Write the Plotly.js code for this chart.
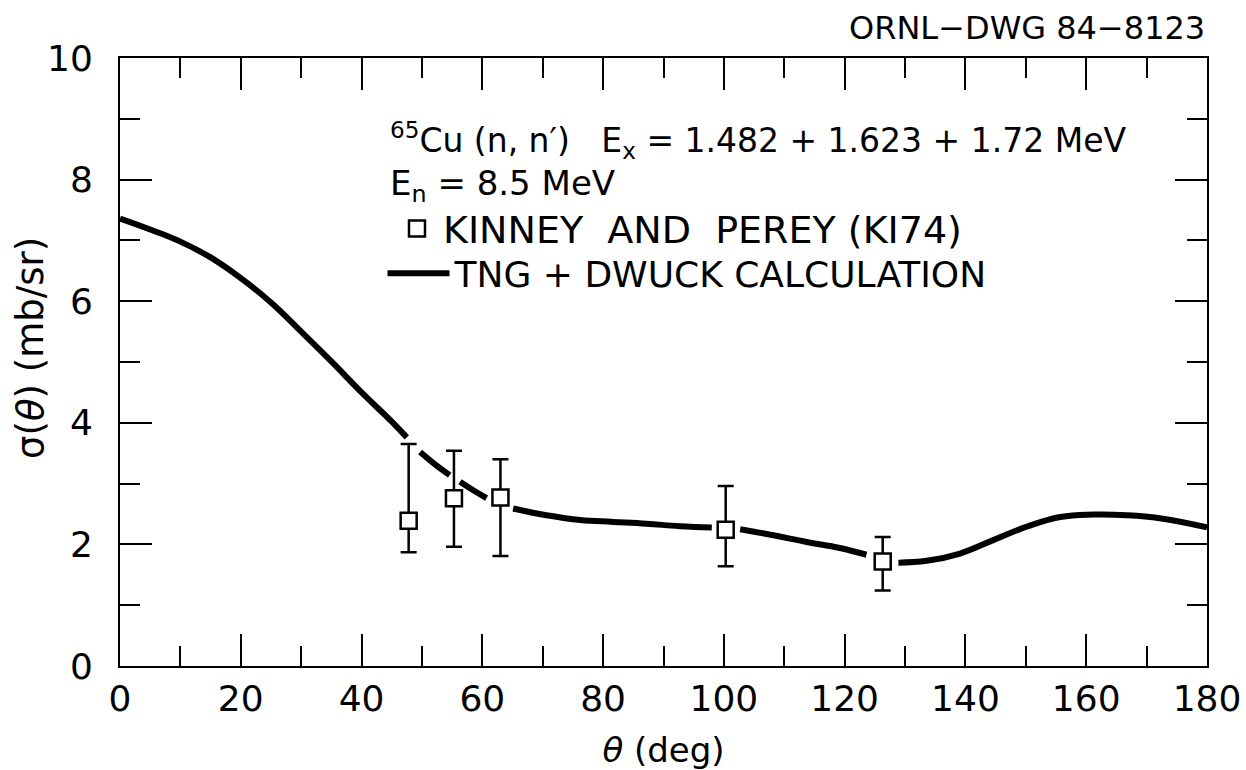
<!DOCTYPE html>
<html>
<head>
<meta charset="utf-8">
<script src="https://cdn.plot.ly/plotly-3.0.1.min.js"></script>
<style>
  html, body { margin: 0; padding: 0; background: #ffffff; }
  #chart { width: 1246px; height: 770px; }
</style>
</head>
<body>
<div id="chart"></div>
<script>
// Experimental data: Kinney and Perey (KI74)
const expAngle = [47.8, 55.3, 63.0, 100.3, 126.3];
const expSigma = [2.39, 2.76, 2.77, 2.24, 1.72];
const expErrPlus = [1.26, 0.78, 0.63, 0.72, 0.40];
const expErrMinus = [0.52, 0.80, 0.96, 0.60, 0.48];

// TNG + DWUCK calculation (null = gap in the drawn curve near data points)
const calcAngle = [0, 5, 10, 15, 20, 25, 30, 35, 40, 45, 47.5, null,
  49.7, 52, 54.6, null,
  56.3, 58.5, 60.7, null,
  65.1, 70.6, 76.2, 81.7, 87.2, 92.7, 98, null,
  102.7, 108.2, 113.7, 119.2, 123.6, null,
  128.9, 133.6, 139.1, 144.6, 150.1, 155.7, 161.2, 166.7, 172.2, 180];
const calcSigma = [7.36, 7.18, 6.98, 6.72, 6.38, 5.98, 5.50, 5.01, 4.50, 4.02, 3.76, null,
  3.52, 3.33, 3.14, null,
  3.03, 2.89, 2.76, null,
  2.59, 2.48, 2.40, 2.37, 2.34, 2.30, 2.28, null,
  2.25, 2.15, 2.04, 1.94, 1.83, null,
  1.70, 1.73, 1.85, 2.07, 2.29, 2.45, 2.49, 2.48, 2.43, 2.28];

const xTicks = [0, 20, 40, 60, 80, 100, 120, 140, 160, 180];
const yTicks = [0, 2, 4, 6, 8, 10];

const FONT = "DejaVu Sans, Liberation Sans, sans-serif";

const traces = [
  {
    x: expAngle, y: expSigma,
    type: 'scatter', mode: 'markers',
    marker: { symbol: 'square', size: 16, color: '#fff', line: { color: '#000', width: 2.5 } },
    error_y: { type: 'data', symmetric: false, array: expErrPlus, arrayminus: expErrMinus,
               color: '#000', thickness: 2.5, width: 8 },
    name: 'KINNEY  AND  PEREY (KI74)',
    legend: 'legend'
  },
  {
    x: calcAngle, y: calcSigma,
    type: 'scatter', mode: 'lines',
    line: { color: '#000', width: 6, shape: 'spline', smoothing: 1.2 },
    connectgaps: false,
    name: 'TNG + DWUCK CALCULATION',
    legend: 'legend2',
    hoverinfo: 'skip'
  }
];

const legendCommon = {
  xanchor: 'left', yanchor: 'middle',
  bgcolor: 'rgba(0,0,0,0)', borderwidth: 0
};

const layout = {
  width: 1246, height: 770,
  margin: { l: 120, r: 39, t: 58, b: 104 },
  paper_bgcolor: '#fff', plot_bgcolor: '#fff',
  font: { family: FONT, color: '#000', size: 36 },
  showlegend: true,
  legend: Object.assign({}, legendCommon, { x: 0.2493, y: 0.719, itemwidth: 42,
    font: { family: FONT, size: 38, color: '#000' } }),
  legend2: Object.assign({}, legendCommon, { x: 0.2415, y: 0.646, itemwidth: 62,
    font: { family: FONT, size: 36, color: '#000' } }),
  xaxis: {
    range: [0, 180], tickmode: 'array', tickvals: xTicks, ticktext: xTicks.map(String),
    ticks: 'inside', ticklen: 32, tickwidth: 2, tickcolor: '#000',
    minor: { dtick: 10, ticks: 'inside', ticklen: 20, tickwidth: 2, tickcolor: '#000' },
    showline: true, linewidth: 2, linecolor: '#000', mirror: 'ticks',
    showgrid: false, zeroline: false,
    tickfont: { family: FONT, size: 36 },
    ticklabelstandoff: 0,
    title: { text: '<i>θ</i> (deg)', font: { family: FONT, size: 34 }, standoff: 20 }
  },
  yaxis: {
    range: [0, 10], tickmode: 'array', tickvals: yTicks, ticktext: yTicks.map(String),
    ticks: 'inside', ticklen: 32, tickwidth: 2, tickcolor: '#000',
    minor: { dtick: 1, ticks: 'inside', ticklen: 20, tickwidth: 2, tickcolor: '#000' },
    showline: true, linewidth: 2, linecolor: '#000', mirror: 'ticks',
    showgrid: false, zeroline: false,
    tickfont: { family: FONT, size: 36 },
    ticklabelstandoff: 18
  },
  annotations: [
    { xref: 'paper', yref: 'paper', x: -0.0828, y: 0.523, xanchor: 'center', yanchor: 'middle',
      textangle: -90, text: 'σ(<i>θ</i>) (mb/sr)', showarrow: false,
      font: { family: FONT, size: 37 } },
    { xref: 'paper', yref: 'paper', x: 1.0, y: 1.049, xanchor: 'right', yanchor: 'middle',
      text: 'ORNL−DWG 84−8123', showarrow: false, font: { family: FONT, size: 32 } },
    { xref: 'paper', yref: 'paper', x: 0.2466, y: 0.865, xanchor: 'left', yanchor: 'middle',
      text: '<sup>65</sup>Cu (n, n′)   E<sub>x</sub> = 1.482 + 1.623 + 1.72 MeV', showarrow: false,
      font: { family: FONT, size: 33 } },
    { xref: 'paper', yref: 'paper', x: 0.2466, y: 0.79, xanchor: 'left', yanchor: 'middle',
      text: 'E<sub>n</sub> = 8.5 MeV', showarrow: false, font: { family: FONT, size: 34 } }
  ]
};

Plotly.newPlot('chart', traces, layout, { displayModeBar: false, staticPlot: true });
</script>
</body>
</html>
